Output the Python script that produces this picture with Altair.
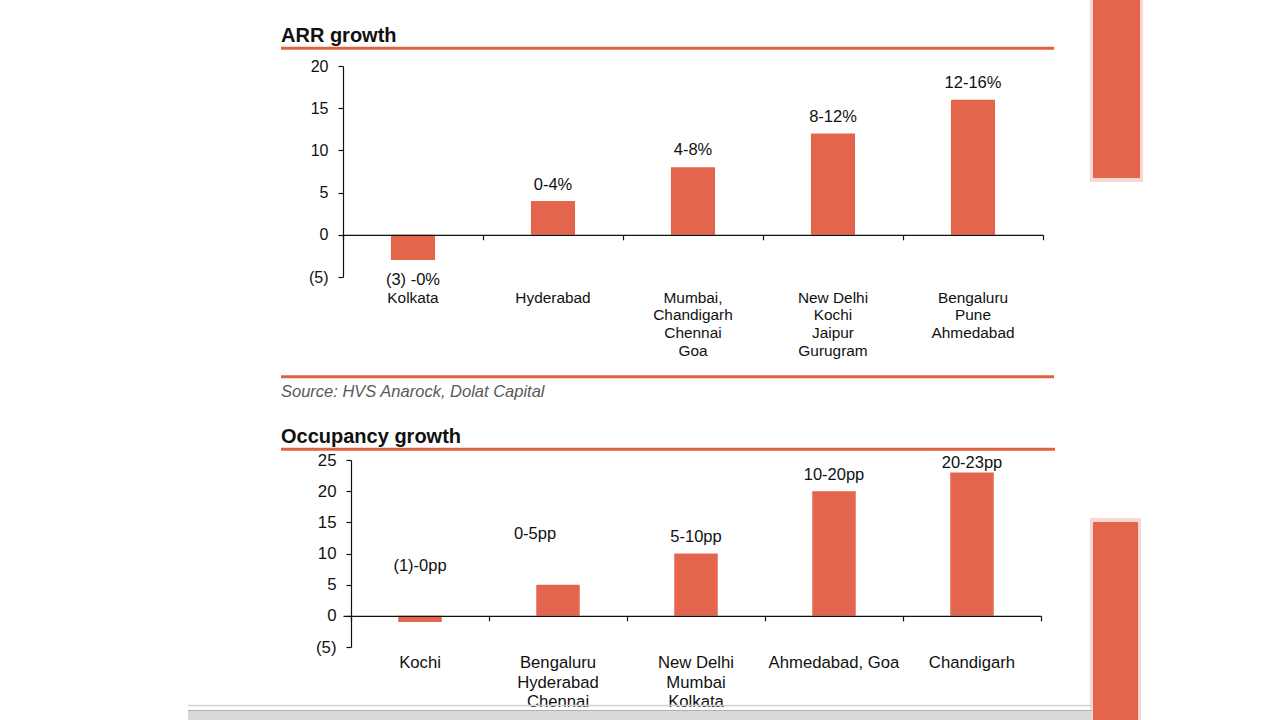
import altair as alt
import pandas as pd

# ---------------- data ----------------
arr_cities = ["Kolkata", "Hyderabad", "Mumbai,\nChandigarh\nChennai\nGoa",
              "New Delhi\nKochi\nJaipur\nGurugram", "Bengaluru\nPune\nAhmedabad"]
arr_values = [-3, 4, 8, 12, 16]
arr_labels = ["(3) -0%", "0-4%", "4-8%", "8-12%", "12-16%"]
arr_label_at = [-5.4, 5.95, 10.0, 13.9, 18.0]
arr_ticks = [-5, 0, 5, 10, 15, 20]

occ_cities = ["Kochi", "Bengaluru\nHyderabad\nChennai", "New Delhi\nMumbai\nKolkata",
              "Ahmedabad, Goa", "Chandigarh"]
occ_values = [-1, 5, 10, 20, 23]
occ_labels = ["(1)-0pp", "0-5pp", "5-10pp", "10-20pp", "20-23pp"]
occ_label_at = [8.0, 13.1, 12.7, 22.6, 24.5]
occ_ticks = [-5, 0, 5, 10, 15, 20, 25]

arr_title = "ARR growth"
occ_title = "Occupancy growth"
source_text = "Source: HVS Anarock, Dolat Capital"

# ---------------- style ----------------
FONT = "Liberation Sans"
BAR = "#E3654C"
RULE = "#E1613F"
INK = "#111111"

one = pd.DataFrame({"k": [0]})


def deco_rule(x, x2, y, color=RULE, width=3):
    return alt.Chart(one).mark_rule(color=color, strokeWidth=width).encode(
        x=alt.value(x), x2=alt.value(x2), y=alt.value(y))


def deco_rect(x, x2, y, y2, color, opacity=1.0):
    return alt.Chart(one).mark_rect(color=color, opacity=opacity).encode(
        x=alt.value(x), x2=alt.value(x2), y=alt.value(y), y2=alt.value(y2))


def deco_text(txt, x, y, size, weight="normal", style="normal", color=INK):
    return alt.Chart(one).mark_text(text=txt, align="left", baseline="alphabetic",
                                    font=FONT, fontSize=size, fontWeight=weight,
                                    fontStyle=style, color=color).encode(
        x=alt.value(x), y=alt.value(y))


def panel(cats, vals, labels, label_at, ticks, width, height, axis_shift,
          outer_pad, align, fs_tick, fs_cat, lh_cat, cat_pad, shifted=None, shift_dx=0):
    df = pd.DataFrame({"category": cats, "value": vals, "label": labels,
                       "label_at": label_at})
    order = list(cats)
    ymin, ymax = ticks[0], ticks[-1]
    yscale = alt.Scale(domain=[ymin, ymax], nice=False, zero=False)
    zero_offset = -height * (0 - ymin) / (ymax - ymin)
    yaxis = alt.Axis(values=ticks,
                     labelExpr="datum.value < 0 ? '(' + abs(datum.value) + ')' : datum.label",
                     title=None, grid=False, domainColor=INK, domainWidth=1.2,
                     tickColor=INK, tickSize=5, tickWidth=1.2, labelFontSize=fs_tick,
                     labelColor=INK, labelFont=FONT, labelPadding=10,
                     offset=-axis_shift, zindex=1)
    xscale = alt.Scale(type="band", domain=order, paddingInner=0,
                       paddingOuter=outer_pad, align=align)

    bars = alt.Chart(df).mark_bar(color=BAR, width=alt.RelativeBandSize(0.315)).encode(
        x=alt.X("category:N", sort=order, scale=xscale,
                axis=alt.Axis(orient="bottom", offset=zero_offset, labels=False,
                              title=None, domainColor=INK, domainWidth=1.2,
                              tickColor=INK, tickSize=5, tickWidth=1.2,
                              tickBand="extent", grid=False, zindex=1)),
        y=alt.Y("value:Q", scale=yscale, axis=yaxis),
    )

    cat_axis_layer = alt.Chart(df).mark_bar(opacity=0).encode(
        x=alt.X("category:N", sort=order, scale=xscale,
                axis=alt.Axis(orient="bottom", domain=False, ticks=False, tickSize=0,
                              labelAngle=0, labelAlign="center",
                              labelExpr="split(datum.label, '\\n')",
                              labelFontSize=fs_cat, labelLineHeight=lh_cat,
                              labelPadding=cat_pad, labelColor=INK, labelFont=FONT,
                              labelBaseline="top", labelOverlap=False, title=None,
                              grid=False, zindex=0)),
        y=alt.Y("value:Q", scale=yscale, axis=yaxis),
    )

    def label_layer(data_filter, dx):
        base = alt.Chart(df)
        if data_filter is not None:
            base = base.transform_filter(data_filter)
        return base.mark_text(font=FONT, fontSize=16.5, color=INK, baseline="middle",
                              dx=dx).encode(
            x=alt.X("category:N", sort=order, scale=xscale, axis=None,
                    bandPosition=0.5),
            y=alt.Y("label_at:Q", scale=yscale, axis=yaxis),
            text="label:N",
        )

    if shifted is None:
        labels_layers = [label_layer(None, 0)]
    else:
        labels_layers = [label_layer(alt.datum.label != shifted, 0),
                         label_layer(alt.datum.label == shifted, shift_dx)]
    return [bars, cat_axis_layer] + labels_layers


# ---------- top panel (plot origin at page 343,66) ----------
top_layers = [
    deco_rect(-343, 937, -66, 654, "white", opacity=0),  # canvas frame
    deco_rect(747, 800, -66, 116, BAR, opacity=0.25),
    deco_rect(750, 797, -66, 112, BAR),
    deco_rect(747, 798, 452, 654, BAR, opacity=0.25),
    deco_rect(750, 795, 456, 654, BAR),
    deco_text(arr_title, -62, -24, 20, weight="bold"),
    deco_rule(-62, 711, -17.7),
    deco_rule(-62, 711, 310.7),
    deco_text(source_text, -62, 330.7, 16.5, style="italic", color="#595959"),
] + panel(arr_cities, arr_values, arr_labels, arr_label_at, arr_ticks,
          width=700, height=211, axis_shift=0, outer_pad=0, align=0.5,
          fs_tick=16, fs_cat=15.4, lh_cat=17.7, cat_pad=13)

top = alt.layer(*top_layers).resolve_scale(x="independent").resolve_axis(
    x="independent").properties(width=700, height=211)

# ---------- bottom panel (plot origin at page 343,460; axis at 351) ----------
bottom_layers = [
    deco_text(occ_title, -62, -17.3, 20, weight="bold"),
    deco_rule(-62, 712, -10.7),
] + panel(occ_cities, occ_values, occ_labels, occ_label_at, occ_ticks,
          width=698, height=187, axis_shift=8, outer_pad=8 / (2 * 138), align=1,
          fs_tick=16.8, fs_cat=16.7, lh_cat=19.6, cat_pad=7.5,
          shifted="0-5pp", shift_dx=-23) + [
    deco_rule(-155, 749, 245.5, color="#d2d2d2", width=1.5),
    deco_rect(-155, 749, 250, 260, "#d9d9d9"),
    deco_rule(-155, 749, 250.5, color="#b0b0b0", width=1),
]

bottom = alt.layer(*bottom_layers).resolve_scale(x="independent").resolve_axis(
    x="independent").properties(width=698, height=187)

chart = alt.vconcat(top, bottom, spacing=183, bounds="flush").properties(
    padding=0, background="white"
).configure(font=FONT).configure_view(strokeWidth=0, stroke="transparent")

chart.save("out.html", embed_options={"renderer": "svg", "actions": False})
